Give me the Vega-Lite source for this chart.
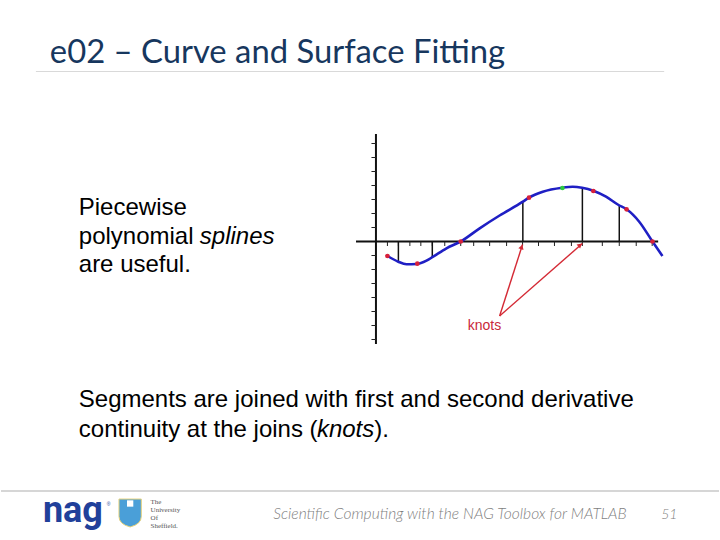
{
  "$schema": "https://vega.github.io/schema/vega-lite/v6.json",
  "width": 720,
  "height": 540,
  "autosize": {"type": "fit", "contains": "padding"},
  "padding": 0,
  "background": "white",
  "config": {"view": {"stroke": null}},
  "datasets": {
    "curve": [
      {"x": 1.17, "y": -1.45}, {"x": 2.23, "y": -2.02}, {"x": 3.07, "y": -2.28}, {"x": 4.07, "y": -2.25},
      {"x": 5.07, "y": -1.92}, {"x": 5.73, "y": -1.52}, {"x": 7.07, "y": -0.68}, {"x": 8.5, "y": 0},
      {"x": 10.4, "y": 1.32}, {"x": 12.4, "y": 2.6}, {"x": 14.73, "y": 3.98}, {"x": 15.33, "y": 4.38},
      {"x": 16.73, "y": 4.98}, {"x": 18.67, "y": 5.38}, {"x": 19.73, "y": 5.48}, {"x": 20.67, "y": 5.38},
      {"x": 21.8, "y": 5.08}, {"x": 23.07, "y": 4.48}, {"x": 24.33, "y": 3.65}, {"x": 25.13, "y": 3.22},
      {"x": 26.4, "y": 1.98}, {"x": 27.73, "y": 0}, {"x": 28.73, "y": -1.45}
    ],
    "reddots": [
      {"x": 1.15, "y": -1.45}, {"x": 4.15, "y": -2.22}, {"x": 8.5, "y": 0}, {"x": 15.35, "y": 4.38},
      {"x": 21.8, "y": 5.05}, {"x": 25.13, "y": 3.22}, {"x": 27.73, "y": 0}
    ],
    "greendot": [{"x": 18.7, "y": 5.35}],
    "knotlines": [
      {"x": 2.25, "y": 0, "y2": -2.02}, {"x": 5.65, "y": 0, "y2": -1.55}, {"x": 14.73, "y": 0, "y2": 3.98},
      {"x": 20.7, "y": 0, "y2": 5.35}, {"x": 24.4, "y": 0, "y2": 3.65}
    ],
    "xticks": [
      {"x": 1.15, "y": 0, "y2": -0.45}, {"x": 2.25, "y": 0, "y2": -0.45}, {"x": 3.4, "y": 0, "y2": -0.45},
      {"x": 4.5, "y": 0, "y2": -0.45}, {"x": 5.65, "y": 0, "y2": -0.45}, {"x": 6.9, "y": 0, "y2": -0.45},
      {"x": 8.5, "y": 0, "y2": -0.45}, {"x": 9.8, "y": 0, "y2": -0.45}, {"x": 11.4, "y": 0, "y2": -0.45},
      {"x": 13.1, "y": 0, "y2": -0.45}, {"x": 14.7, "y": 0, "y2": -0.45}, {"x": 16.3, "y": 0, "y2": -0.45},
      {"x": 17.9, "y": 0, "y2": -0.45}, {"x": 19.6, "y": 0, "y2": -0.45}, {"x": 20.7, "y": 0, "y2": -0.45},
      {"x": 22.7, "y": 0, "y2": -0.45}, {"x": 24.4, "y": 0, "y2": -0.45}, {"x": 26.1, "y": 0, "y2": -0.45},
      {"x": 27.7, "y": 0, "y2": -0.45}
    ],
    "yticks": [
      {"y": 9.8, "x": -0.45, "x2": 0}, {"y": 8.4, "x": -0.45, "x2": 0}, {"y": 7.0, "x": -0.45, "x2": 0},
      {"y": 5.6, "x": -0.45, "x2": 0}, {"y": 4.2, "x": -0.45, "x2": 0}, {"y": 2.8, "x": -0.45, "x2": 0},
      {"y": 1.4, "x": -0.45, "x2": 0}, {"y": -1.4, "x": -0.45, "x2": 0}, {"y": -2.8, "x": -0.45, "x2": 0},
      {"y": -4.2, "x": -0.45, "x2": 0}, {"y": -5.6, "x": -0.45, "x2": 0}, {"y": -7.0, "x": -0.45, "x2": 0},
      {"y": -8.4, "x": -0.45, "x2": 0}, {"y": -9.8, "x": -0.45, "x2": 0}
    ],
    "axes": [
      {"x": -2.0, "y": 0, "x2": 28.3, "y2": 0},
      {"x": 0, "y": 10.75, "x2": 0, "y2": -10.25}
    ],
    "arrows": [
      {"x": 12.4, "y": -7.45, "x2": 14.7, "y2": -0.3},
      {"x": 12.4, "y": -7.45, "x2": 20.7, "y2": -0.2}
    ],
    "bodytext": [
      {"x": -29.8, "y": 2.65, "text": "Piecewise"},
      {"x": -29.8, "y": -0.2, "text": "polynomial"},
      {"x": -29.8, "y": -3.05, "text": "are useful."},
      {"x": -29.8, "y": -16.55, "text": "Segments are joined with first and second derivative"},
      {"x": -29.8, "y": -19.55, "text": "continuity at the joins ("},
      {"x": -0.18, "y": -19.55, "text": ")."}
    ],
    "bodyitalic": [
      {"x": -17.66, "y": -0.2, "text": "splines"},
      {"x": -5.92, "y": -19.55, "text": "knots"}
    ]
  },
  "encoding": {
    "x": {"field": "x", "type": "quantitative", "scale": {"domain": [-37.6, 34.4], "nice": false, "zero": false}, "axis": null},
    "y": {"field": "y", "type": "quantitative", "scale": {"domain": [-29.85, 24.15], "nice": false, "zero": false}, "axis": null}
  },
  "layer": [
    {
      "data": {"values": [{"x": -34.1, "x2": 28.9, "y": 17.0}]},
      "mark": {"type": "rule", "color": "#d9d9d9", "strokeWidth": 1.2},
      "encoding": {"x2": {"field": "x2"}}
    },
    {
      "data": {"values": [{"x": -37.6, "x2": 34.4, "y": -24.95}]},
      "mark": {"type": "rule", "color": "#c8c8c8", "strokeWidth": 1.5},
      "encoding": {"x2": {"field": "x2"}}
    },
    {
      "data": {"name": "axes"},
      "mark": {"type": "rule", "color": "#111111", "strokeWidth": 2},
      "encoding": {"x2": {"field": "x2"}, "y2": {"field": "y2"}}
    },
    {
      "data": {"name": "xticks"},
      "mark": {"type": "rule", "color": "#222222", "strokeWidth": 1},
      "encoding": {"y2": {"field": "y2"}}
    },
    {
      "data": {"name": "yticks"},
      "mark": {"type": "rule", "color": "#222222", "strokeWidth": 1},
      "encoding": {"x2": {"field": "x2"}}
    },
    {
      "data": {"name": "knotlines"},
      "mark": {"type": "rule", "color": "#111111", "strokeWidth": 1.5},
      "encoding": {"y2": {"field": "y2"}}
    },
    {
      "data": {"name": "curve"},
      "mark": {"type": "line", "color": "#1f1fc4", "strokeWidth": 2.6, "interpolate": "monotone"},
      "encoding": {"order": {"field": "x", "type": "quantitative"}}
    },
    {
      "data": {"name": "arrows"},
      "mark": {"type": "rule", "color": "#d42a35", "strokeWidth": 1.4},
      "encoding": {"x2": {"field": "x2"}, "y2": {"field": "y2"}}
    },
    {
      "data": {"values": [{"x": 14.61, "y": -0.54}]},
      "mark": {"type": "point", "shape": "triangle-up", "filled": true, "color": "#d42a35", "size": 30, "angle": 17.7, "opacity": 1}
    },
    {
      "data": {"values": [{"x": 20.475, "y": -0.35}]},
      "mark": {"type": "point", "shape": "triangle-up", "filled": true, "color": "#d42a35", "size": 30, "angle": 48.7, "opacity": 1}
    },
    {
      "data": {"name": "reddots"},
      "mark": {"type": "point", "shape": "circle", "filled": true, "color": "#d8203a", "size": 22, "opacity": 1}
    },
    {
      "data": {"name": "greendot"},
      "mark": {"type": "point", "shape": "circle", "filled": true, "color": "#2ecc40", "size": 22, "opacity": 1}
    },
    {
      "data": {"values": [{"x": 9.2, "y": -8.8, "text": "knots"}]},
      "mark": {"type": "text", "font": "Liberation Sans", "fontSize": 14, "color": "#c8283a", "align": "left", "baseline": "alphabetic"},
      "encoding": {"text": {"field": "text"}}
    },
    {
      "data": {"values": [{"x": -32.7, "y": 17.85, "text": "e02 – Curve and Surface Fitting"}]},
      "mark": {"type": "text", "font": "Lato", "fontSize": 32.8, "color": "#17375e", "align": "left", "baseline": "alphabetic"},
      "encoding": {"text": {"field": "text"}}
    },
    {
      "data": {"name": "bodytext"},
      "mark": {"type": "text", "font": "Liberation Sans", "fontSize": 24, "color": "#000000", "align": "left", "baseline": "alphabetic"},
      "encoding": {"text": {"field": "text"}}
    },
    {
      "data": {"name": "bodyitalic"},
      "mark": {"type": "text", "font": "Liberation Sans", "fontSize": 24, "fontStyle": "italic", "color": "#000000", "align": "left", "baseline": "alphabetic"},
      "encoding": {"text": {"field": "text"}}
    },
    {
      "data": {"values": [{"x": -10.3, "y": -27.75, "text": "Scientific Computing with the NAG Toolbox for MATLAB"}]},
      "mark": {"type": "text", "font": "Lato", "fontSize": 15.6, "fontStyle": "italic", "fontWeight": 300, "color": "#7f7f7f", "align": "left", "baseline": "alphabetic"},
      "encoding": {"text": {"field": "text"}}
    },
    {
      "data": {"values": [{"x": 28.6, "y": -27.7, "text": "51"}]},
      "mark": {"type": "text", "font": "Lato", "fontSize": 14, "fontStyle": "italic", "fontWeight": 300, "color": "#7f7f7f", "align": "left", "baseline": "alphabetic"},
      "encoding": {"text": {"field": "text"}}
    },
    {
      "data": {"values": [{"x": -33.4, "y": -28.05, "text": "nag"}]},
      "mark": {"type": "text", "font": "Roboto", "fontSize": 36, "fontWeight": "bold", "color": "#21409a", "align": "left", "baseline": "alphabetic"},
      "encoding": {"text": {"field": "text"}}
    },
    {
      "data": {"values": [{"x": -27.0, "y": -26.4, "text": "®"}]},
      "mark": {"type": "text", "font": "Liberation Sans", "fontSize": 5, "color": "#21409a", "align": "left", "baseline": "alphabetic"},
      "encoding": {"text": {"field": "text"}}
    },
    {
      "data": {"values": [{"x": -24.65, "y": -27.15}]},
      "mark": {"type": "point", "shape": "M-0.8,-1 L0.8,-1 L0.8,0.25 Q0.8,0.8 0,1 Q-0.8,0.8 -0.8,0.25 Z", "filled": true, "color": "#4a9fd8", "size": 780, "opacity": 1, "stroke": "#e8d27a", "strokeWidth": 1}
    },
    {
      "data": {"values": [{"x": -24.65, "y": -26.2}]},
      "mark": {"type": "point", "shape": "square", "filled": true, "color": "#ffffff", "size": 40, "opacity": 1}
    },
    {
      "data": {"values": [
        {"x": -22.6, "y": -26.25, "text": "The"},
        {"x": -22.6, "y": -27.05, "text": "University"},
        {"x": -22.6, "y": -27.85, "text": "Of"},
        {"x": -22.6, "y": -28.65, "text": "Sheffield."}
      ]},
      "mark": {"type": "text", "font": "Liberation Serif", "fontSize": 7, "color": "#555555", "align": "left", "baseline": "alphabetic"},
      "encoding": {"text": {"field": "text"}}
    }
  ]
}
